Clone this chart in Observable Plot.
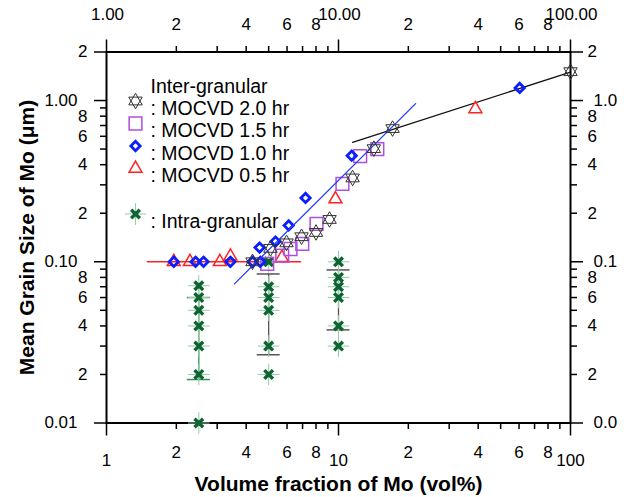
<!DOCTYPE html>
<html><head><meta charset="utf-8">
<script src="https://cdn.jsdelivr.net/npm/d3@7"></script>
<script src="https://cdn.jsdelivr.net/npm/@observablehq/plot@0.6"></script>
<style>body{margin:0;background:#fff}</style>
</head><body><div id="chart"></div>
<script>
// ---- data ----
const hr20X = [4.26, 5.09, 5.97, 6.93, 8.0, 9.15, 11.5, 14.2, 17.1, 100];
const hr20Y = [0.1, 0.121, 0.131, 0.143, 0.152, 0.183, 0.331, 0.503, 0.67, 1.51];
const hr15X = [4.93, 5.72, 6.21, 6.98, 8.04, 10.4, 12.4, 14.7];
const hr15Y = [0.097, 0.109, 0.120, 0.129, 0.172, 0.304, 0.452, 0.50];
const hr10X = [1.95, 2.42, 2.62, 3.42, 4.26, 4.6, 4.57, 5.35, 6.1, 7.21, 11.4, 60.4];
const hr10Y = [0.1, 0.1, 0.1, 0.1, 0.1, 0.1, 0.1225, 0.1335, 0.168, 0.249, 0.455, 1.197];
const hr05X = [1.95, 2.29, 3.08, 3.42, 5.7, 9.7, 38.9];
const hr05Y = [0.1, 0.1, 0.1, 0.108, 0.106, 0.245, 0.887];
const intraX = [2.5, 2.5, 2.5, 2.5, 2.5, 2.5, 2.5, 5, 5, 5, 5, 5, 5, 10, 10, 10, 10, 10, 10];
const intraY = [0.071, 0.060, 0.050, 0.040, 0.030, 0.020, 0.010,
                0.10, 0.070, 0.060, 0.050, 0.030, 0.020,
                0.10, 0.080, 0.070, 0.060, 0.040, 0.030];
const errX = [2.5, 5, 10];
const errLo = [0.0186, 0.0265, 0.0378];
const errHi = [0.060, 0.084, 0.089];
const errColor = ["#3b8c5c", "#555555", "#555555"];
const blueFitX = [3.56, 21.5], blueFitY = [0.0729, 0.957];
const blackFitX = [11.5, 100], blackFitY = [0.551, 1.50];
const redFitX = [1.5, 6.86], redFitY = [0.1, 0.1];

const xMajor = [1, 10, 100];
const xMinor = [2, 3, 4, 5, 6, 7, 8, 9, 20, 30, 40, 50, 60, 70, 80, 90];
const xMinorLabeled = [2, 4, 6, 8, 20, 40, 60, 80];
const yMajor = [0.01, 0.1, 1];
const yTop = [2];
const yMinor = [0.02, 0.03, 0.04, 0.05, 0.06, 0.07, 0.08, 0.09, 0.2, 0.3, 0.4, 0.5, 0.6, 0.7, 0.8, 0.9];
const yMinorLabeled = [0.02, 0.04, 0.06, 0.08, 0.2, 0.4, 0.6, 0.8, 2];

const xTitle = "Volume fraction of Mo (vol%)";
const yTitle = "Mean Grain Size of Mo (μm)";
const legendTitle = "Inter-granular";
const legendLabels = [": MOCVD 2.0 hr", ": MOCVD 1.5 hr", ": MOCVD 1.0 hr", ": MOCVD 0.5 hr"];
const intraLabel = ": Intra-granular";

// ---- helpers ----
const zip = (xs, ys) => xs.map((x, i) => ({x, y: ys[i]}));
const digit = d => String(Math.round(d / 10 ** Math.floor(Math.log10(d) + 1e-9)));
const font = "'Liberation Sans', Arial, Helvetica, sans-serif";

const S20 = {stroke: "#333", strokeWidth: 1, fill: "none", r: 5};
const S15 = {stroke: "#b04ee0", strokeWidth: 1.5, fill: "none", r: 7.2, symbol: "square"};
const S10 = {stroke: "#0a1eff", strokeWidth: 2.8, fill: "none", r: 4.2, symbol: "diamond2"};
const S05 = {stroke: "#ff2222", strokeWidth: 1.5, fill: "none", r: 4.8, symbol: "triangle"};

const hexagram = (data, o) => [
  Plot.dot(data, {...S20, ...o, symbol: "triangle", rotate: 0}),
  Plot.dot(data, {...S20, ...o, symbol: "triangle", rotate: 180})
];
const greenStar = (data, o) => [
  Plot.dot(data, {...o, symbol: "plus", stroke: "#8fd0a0", strokeWidth: 1, r: 7}),
  Plot.dot(data, {...o, symbol: "times", stroke: "#0d6332", strokeWidth: 3.4, r: 4})
];

const pts20 = zip(hr20X, hr20Y), pts15 = zip(hr15X, hr15Y), pts10 = zip(hr10X, hr10Y), pts05 = zip(hr05X, hr05Y);
const ptsIntra = zip(intraX, intraY);
const err = errX.map((x, i) => ({x, lo: errLo[i], hi: errHi[i], c: errColor[i]}));
const capK = 1.121;

const L = {frameAnchor: "top-left"};
const legendDy = [49, 71.5, 94, 116.5];
const legendMarks = [
  Plot.text([legendTitle], {...L, dx: 44, dy: 27, textAnchor: "start", fontSize: 19.5}),
  ...legendLabels.map((t, i) => Plot.text([t], {...L, dx: 44, dy: legendDy[i], textAnchor: "start", fontSize: 19.5})),
  ...hexagram([0], {...L, dx: 29, dy: legendDy[0]}),
  Plot.dot([0], {...S15, ...L, dx: 29, dy: legendDy[1]}),
  Plot.dot([0], {...S10, ...L, dx: 29, dy: legendDy[2]}),
  Plot.dot([0], {...S05, ...L, dx: 29, dy: legendDy[3]}),
  ...greenStar([0], {...L, dx: 29, dy: 162}),
  Plot.text([intraLabel], {...L, dx: 44, dy: 162, textAnchor: "start", fontSize: 19.5})
];

const tk = {strokeWidth: 1.5, fill: "none", label: null};
const lab = {fontSize: 17, fill: "black"};
const minorText = (arr, keep) => arr.filter(d => keep.includes(d));

const chart = Plot.plot({
  width: 632, height: 497,
  marginLeft: 106, marginRight: 62, marginTop: 51.5, marginBottom: 74.5,
  x: {type: "log", domain: [1, 100], axis: null},
  y: {type: "log", domain: [0.01, 2], axis: null},
  style: {fontFamily: font, background: "white", color: "black", overflow: "visible"},
  marks: [
    // tick marks
    Plot.axisX(xMajor, {...tk, anchor: "bottom", tickSize: 13}),
    Plot.axisX(xMinor, {...tk, anchor: "bottom", tickSize: 6.5}),
    Plot.axisX(xMajor, {...tk, anchor: "top", tickSize: 13}),
    Plot.axisX(xMinor, {...tk, anchor: "top", tickSize: 6.5}),
    Plot.axisY(yMajor.concat(yTop), {...tk, anchor: "left", tickSize: 12}),
    Plot.axisY(yMinor, {...tk, anchor: "left", tickSize: 6}),
    Plot.axisY(yMajor.concat(yTop), {...tk, anchor: "right", tickSize: 12}),
    Plot.axisY(yMinor, {...tk, anchor: "right", tickSize: 6}),
    Plot.frame({stroke: "black", strokeWidth: 2}),
    // tick labels
    Plot.text(xMajor, {...lab, x: d => d, text: d => String(d), frameAnchor: "bottom", dy: 38, lineAnchor: "middle"}),
    Plot.text(minorText(xMinor, xMinorLabeled), {...lab, x: d => d, text: digit, frameAnchor: "bottom", dy: 30, lineAnchor: "middle"}),
    Plot.text(xMajor, {...lab, x: d => d, text: d => d.toFixed(2), frameAnchor: "top", dx: 1, dy: -37.5, lineAnchor: "middle"}),
    Plot.text(minorText(xMinor, xMinorLabeled), {...lab, x: d => d, text: digit, frameAnchor: "top", dy: -27.5, lineAnchor: "middle"}),
    Plot.text(yMajor, {...lab, y: d => d, text: d => d.toFixed(2), frameAnchor: "left", dx: -29, textAnchor: "end"}),
    Plot.text(yMinorLabeled, {...lab, y: d => d, text: digit, frameAnchor: "left", dx: -19, textAnchor: "end"}),
    Plot.text(yMajor, {...lab, y: d => d, text: d => d.toFixed(1), frameAnchor: "right", dx: 23, textAnchor: "start"}),
    Plot.text(yMinorLabeled, {...lab, y: d => d, text: digit, frameAnchor: "right", dx: 17, textAnchor: "start"}),
    // titles
    Plot.text([xTitle], {frameAnchor: "bottom", dy: 68, fontSize: 21, fontWeight: "bold", textAnchor: "middle"}),
    Plot.text([yTitle], {frameAnchor: "left", dx: -79, rotate: -90, fontSize: 21, fontWeight: "bold", textAnchor: "middle"}),
    // error bars
    Plot.ruleX(err, {x: "x", y1: "lo", y2: "hi", stroke: "c", strokeWidth: 1.3}),
    Plot.ruleY(err, {y: "lo", x1: d => d.x / capK, x2: d => d.x * capK, stroke: "c", strokeWidth: 1.5}),
    Plot.ruleY(err, {y: "hi", x1: d => d.x / capK, x2: d => d.x * capK, stroke: "c", strokeWidth: 1.5}),
    // fit lines
    Plot.line(zip(redFitX, redFitY), {x: "x", y: "y", stroke: "#ff2222", strokeWidth: 1.5}),
    Plot.line(zip(blackFitX, blackFitY), {x: "x", y: "y", stroke: "#111", strokeWidth: 1.3}),
    // data
    ...greenStar(ptsIntra, {x: "x", y: "y"}),
    Plot.dot(pts05, {...S05, x: "x", y: "y"}),
    Plot.dot(pts15, {...S15, x: "x", y: "y"}),
    Plot.dot(pts10, {...S10, x: "x", y: "y"}),
    Plot.line(zip(blueFitX, blueFitY), {x: "x", y: "y", stroke: "#1f3cff", strokeWidth: 1.3}),
    ...hexagram(pts20, {x: "x", y: "y"}),
    ...legendMarks
  ]
});
document.getElementById("chart").append(chart);
</script>
</body></html>
